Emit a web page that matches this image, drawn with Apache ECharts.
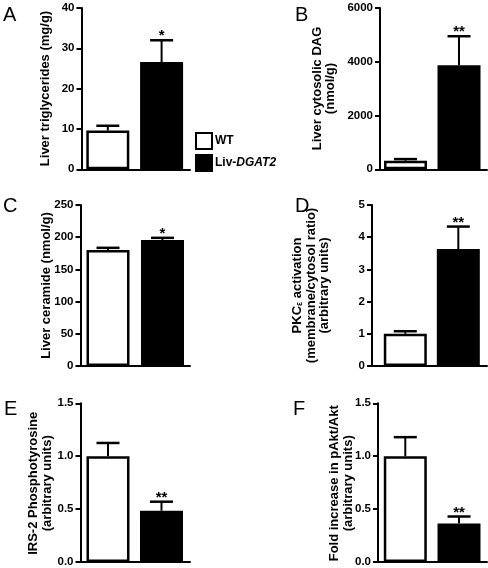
<!DOCTYPE html>
<html>
<head>
<meta charset="utf-8">
<script src="https://cdn.jsdelivr.net/npm/echarts@6/dist/echarts.min.js"></script>
<style>
html,body{margin:0;padding:0;background:#fff;}
#chart{width:488px;height:568px;}
</style>
</head>
<body>
<div id="chart"></div>
<script>
// ---- data ----
const categories = ['WT', 'Liv-DGAT2'];
const panelLetters = ['A', 'B', 'C', 'D', 'E', 'F'];
const wtMean  = [9.6, 320, 180, 1.0, 1.0, 1.0];
const wtErr   = [1.2, 60, 3.5, 0.08, 0.125, 0.18];
const livMean = [26.6, 3870, 195.5, 3.63, 0.485, 0.365];
const livErr  = [5.4, 1080, 3.5, 0.70, 0.085, 0.065];
const livStars = ['*', '**', '*', '**', '**', '**'];
const yMax  = [40, 6000, 250, 5, 1.5, 1.5];
const yStep = [10, 2000, 50, 1, 0.5, 0.5];
const yDecimals = [0, 0, 0, 0, 1, 1];
const yTitles = [
  '{a|Liver triglycerides (mg/g)}',
  '{a|Liver cytosolic DAG}\n{a|(nmol/g)}',
  '{a|Liver ceramide (nmol/g)}',
  '{a|PKC}{s|ε}{a| activation}\n{a|(membrane/cytosol ratio)}\n{a|(arbitrary units)}',
  '{a|IRS-2 Phosphotyrosine}\n{a|(arbitrary units)}',
  '{a|Fold increase in pAkt/Akt}\n{a|(arbitrary units)}'
];

// ---- layout ----
const layout = [
  {left: 81.5, top: 8,     width: 108.5, height: 161.3, xMin: -0.489, xMax: 1.528, tx: 45,    ty: 88.5,  lx: 3,   ly: 15},
  {left: 380,  top: 8,     width: 107,   height: 161.3, xMin: -0.477, xMax: 1.523, tx: 324,   ty: 88.5,  lx: 295, ly: 15},
  {left: 80.5, top: 205,   width: 109.5, height: 161,   xMin: -0.505, xMax: 1.505, tx: 46,    ty: 285.5, lx: 3,   ly: 206},
  {left: 372,  top: 205,   width: 115,   height: 161,   xMin: -0.628, xMax: 1.541, tx: 311,   ty: 285.5, lx: 295, ly: 206},
  {left: 80.5, top: 403.3, width: 109.5, height: 160,   xMin: -0.514, xMax: 1.533, tx: 40.5,  ty: 483.3, lx: 4,   ly: 409},
  {left: 378,  top: 403.3, width: 109,   height: 160,   xMin: -0.508, xMax: 1.521, tx: 341.5, ty: 483.3, lx: 293, ly: 409}
];

const FONT = 'Liberation Sans';
const grids = [], xAxes = [], yAxes = [], series = [], graphics = [];

layout.forEach((L, i) => {
  grids.push({left: L.left, top: L.top, width: L.width, height: L.height, containLabel: false});
  xAxes.push({
    type: 'value', gridIndex: i, min: L.xMin, max: L.xMax,
    axisLine: {show: true, onZero: false, lineStyle: {color: '#000', width: 2}},
    axisTick: {show: false}, axisLabel: {show: false}, splitLine: {show: false}
  });
  yAxes.push({
    type: 'value', gridIndex: i, min: 0, max: yMax[i], interval: yStep[i],
    axisLine: {show: true, onZero: false, lineStyle: {color: '#000', width: 2}},
    axisTick: {show: true, length: 5, lineStyle: {color: '#000', width: 2}},
    axisLabel: {
      color: '#000', fontFamily: FONT, fontWeight: 'bold', fontSize: 11.5, margin: 7,
      formatter: v => v.toFixed(yDecimals[i])
    },
    splitLine: {show: false}
  });
  series.push({
    type: 'bar', name: categories[0], xAxisIndex: i, yAxisIndex: i,
    data: [[0, wtMean[i]]], barWidth: 43, barGap: '-100%',
    itemStyle: {color: '#fff', borderColor: '#000', borderWidth: 2.5},
    emphasis: {disabled: true}, z: 2
  });
  series.push({
    type: 'bar', name: categories[1], xAxisIndex: i, yAxisIndex: i,
    data: [[1, livMean[i]]], barWidth: 43, barGap: '-100%',
    itemStyle: {color: '#000', borderColor: '#000', borderWidth: 2.5},
    emphasis: {disabled: true}, z: 2
  });
  series.push({
    type: 'custom', xAxisIndex: i, yAxisIndex: i, z: 3, silent: true,
    data: [[0, wtMean[i], wtErr[i]], [1, livMean[i], livErr[i]]],
    renderItem: (params, api) => {
      const x = api.value(0), m = api.value(1), e = api.value(2);
      const p0 = api.coord([x, m]);
      const p1 = api.coord([x, m + e]);
      const star = params.dataIndex === 1 ? livStars[i] : '';
      const children = [
        {type: 'line', shape: {x1: p0[0], y1: p0[1], x2: p1[0], y2: p1[1]}, style: {stroke: '#000', lineWidth: 2}},
        {type: 'line', shape: {x1: p1[0] - 11.5, y1: p1[1], x2: p1[0] + 11.5, y2: p1[1]}, style: {stroke: '#000', lineWidth: 2.5}}
      ];
      if (star) {
        children.push({type: 'text', style: {
          text: star, x: p1[0], y: p1[1] - 4, align: 'center', verticalAlign: 'middle',
          font: 'bold 15px ' + FONT, fill: '#000'
        }});
      }
      return {type: 'group', children};
    }
  });
  graphics.push({
    type: 'text', x: L.tx, y: L.ty, rotation: Math.PI / 2, silent: true,
    style: {
      text: yTitles[i], align: 'center', verticalAlign: 'middle', fill: '#000',
      rich: {
        a: {fontFamily: FONT, fontWeight: 'bold', fontSize: 13, lineHeight: 13.5, color: '#000'},
        s: {fontFamily: FONT, fontWeight: 'bold', fontSize: 8.5, lineHeight: 13.5, verticalAlign: 'bottom', color: '#000'}
      }
    }
  });
  graphics.push({
    type: 'text', x: L.lx, y: L.ly, silent: true,
    style: {text: panelLetters[i], align: 'left', verticalAlign: 'middle', font: '20px ' + FONT, fill: '#000'}
  });
});

const chart = echarts.init(document.getElementById('chart'), null, {renderer: 'canvas'});
chart.setOption({
  animation: false,
  backgroundColor: '#fff',
  grid: grids,
  xAxis: xAxes,
  yAxis: yAxes,
  legend: {
    data: categories, orient: 'vertical', left: 195, top: 132, padding: 0,
    itemWidth: 16, itemHeight: 16, itemGap: 4, icon: 'rect', selectedMode: false,
    formatter: n => n === 'WT' ? '{n|WT}' : '{n|Liv-}{i|DGAT2}',
    textStyle: {
      color: '#000', fontFamily: FONT, fontWeight: 'bold', fontSize: 12, padding: [0, 0, 0, -2],
      rich: {
        n: {fontFamily: FONT, fontWeight: 'bold', fontSize: 12, color: '#000'},
        i: {fontFamily: FONT, fontWeight: 'bold', fontStyle: 'italic', fontSize: 12, color: '#000'}
      }
    }
  },
  graphic: graphics,
  series: series
});
</script>
</body>
</html>
